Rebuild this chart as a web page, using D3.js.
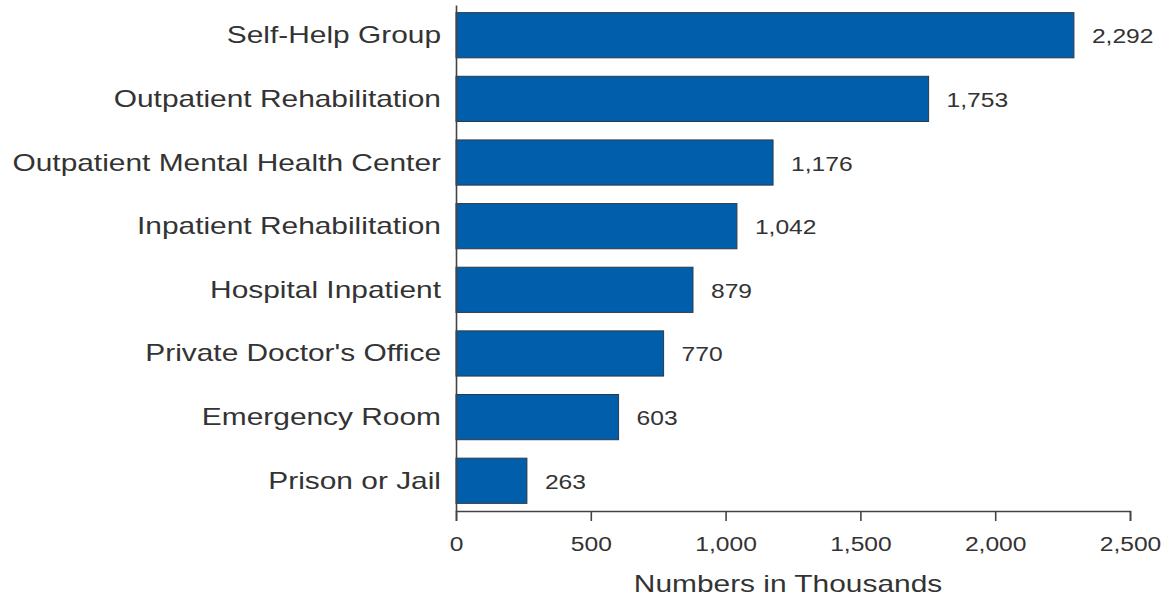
<!DOCTYPE html>
<html>
<head>
<meta charset="utf-8">
<script src="https://cdn.jsdelivr.net/npm/d3@7"></script>
<style>
  html, body { margin: 0; padding: 0; background: #fff; }
  svg { display: block; font-family: Arial, "Liberation Sans", sans-serif; }
</style>
</head>
<body>
<svg id="chart" width="1173" height="598"></svg>
<script>
const categories = [
  "Self-Help Group",
  "Outpatient Rehabilitation",
  "Outpatient Mental Health Center",
  "Inpatient Rehabilitation",
  "Hospital Inpatient",
  "Private Doctor's Office",
  "Emergency Room",
  "Prison or Jail"
];
const values = [2292, 1753, 1176, 1042, 879, 770, 603, 263];
const xTicks = [0, 500, 1000, 1500, 2000, 2500];
const xTitle = "Numbers in Thousands";

const svg = d3.select("#chart");
const x0 = 456, x1 = 1130, yTop = 5, yBot = 511;
const fmt = d3.format(",");

const x = d3.scaleLinear().domain([0, 2500]).range([x0, x1]);
const y = d3.scaleBand().domain(categories).range([yTop, yBot])
  .paddingInner(0.29).paddingOuter(0.12);

// bars
svg.append("g").selectAll("rect")
  .data(values)
  .join("rect")
  .attr("x", x(0))
  .attr("y", (d, i) => y(categories[i]))
  .attr("width", d => x(d) - x(0))
  .attr("height", y.bandwidth())
  .attr("fill", "#005EAA")
  .attr("stroke", "#2b3a4a")
  .attr("stroke-width", 1);

// value labels
svg.append("g").selectAll("text")
  .data(values)
  .join("text")
  .attr("transform", (d, i) => `translate(${x(d) + 18},${y(categories[i]) + y.bandwidth() / 2 + 8}) scale(1.23,1)`)
  .attr("font-size", 20)
  .attr("fill", "#333")
  .text(d => fmt(d));

// x axis
const xAxis = d3.axisBottom(x).tickValues(xTicks).tickSize(10).tickSizeOuter(10)
  .tickFormat(d => fmt(d));
const gx = svg.append("g").attr("transform", `translate(0,${yBot})`).call(xAxis);
gx.select(".domain").attr("stroke", "#444").attr("stroke-width", 1.6);
gx.selectAll(".tick line").attr("stroke", "#444").attr("stroke-width", 1.6);
gx.selectAll(".tick text")
  .attr("y", null).attr("dy", null)
  .attr("transform", "translate(0,40) scale(1.23,1)")
  .attr("font-size", 20)
  .attr("font-family", null)
  .attr("fill", "#333");

// y axis
const yAxis = d3.axisLeft(y).tickSize(0).tickSizeOuter(0);
const gy = svg.append("g").attr("transform", `translate(${x0},0)`).call(yAxis);
gy.select(".domain").attr("stroke", "#444").attr("stroke-width", 1.6);
gy.selectAll(".tick text")
  .attr("x", null).attr("dy", null)
  .attr("transform", "translate(-15,8) scale(1.3,1)")
  .attr("text-anchor", "end")
  .attr("font-size", 23)
  .attr("fill", "#333");
gy.attr("font-family", null).attr("font-size", null);
gx.attr("font-family", null).attr("font-size", null);

// x title
svg.append("text")
  .attr("transform", `translate(${(x0 + x1) / 2 - 5},592) scale(1.3,1)`)
  .attr("text-anchor", "middle")
  .attr("font-size", 23)
  .attr("fill", "#333")
  .text(xTitle);
</script>
</body>
</html>
